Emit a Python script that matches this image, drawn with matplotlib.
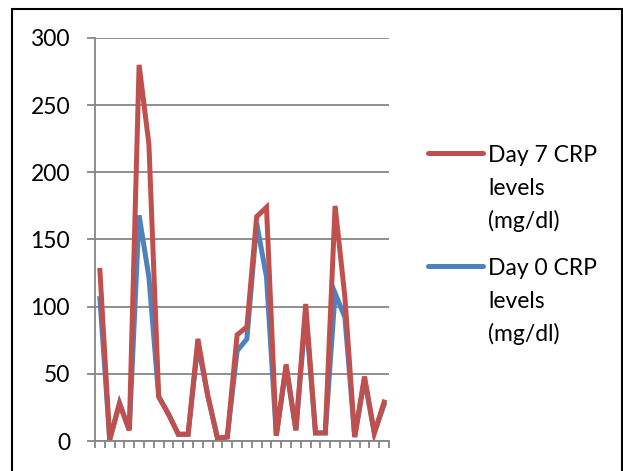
import numpy as np
import matplotlib.pyplot as plt
from matplotlib.lines import Line2D
from matplotlib.patches import Rectangle

plt.rcParams['font.family'] = ['Lato', 'DejaVu Sans']

patients = np.arange(1, 31)
day7 = [127, 1, 28, 8, 280, 221, 33, 20, 5, 5, 76, 34, 2, 3, 79,
        85, 167, 174, 4, 57, 8, 102, 6, 6, 175, 107, 3, 48, 6, 29]
day0 = [106, 1, 28, 8, 168, 122, 33, 20, 5, 5, 72, 34, 2, 3, 67,
        76, 162, 122, 4, 55, 8, 95, 6, 6, 110, 92, 3, 46, 6, 27]
labels = ['Day 7 CRP\nlevels\n(mg/dl)', 'Day 0 CRP\nlevels\n(mg/dl)']
red = '#C0504D'
blue = '#4F81BD'
grey = '#868686'

fig = plt.figure(figsize=(6.23, 4.71), dpi=100)
ax = fig.add_axes([95 / 623, 1 - 441 / 471, 294 / 623, 403 / 471])

ax.plot(patients, day0, color=blue, lw=3.6, solid_joinstyle='miter')
ax.plot(patients, day7, color=red, lw=3.6, solid_joinstyle='miter')

ax.set_xlim(0.5, 30.5)
ax.set_ylim(0, 300)
ax.set_yticks(np.arange(0, 301, 50))
ax.set_xticks(np.arange(0.5, 31, 1))
ax.set_xticklabels([])
ax.grid(axis='y', color=grey, lw=1.3)
ax.set_axisbelow(True)
for s in ['top', 'right']:
    ax.spines[s].set_visible(False)
for s in ['left', 'bottom']:
    ax.spines[s].set_color(grey)
    ax.spines[s].set_linewidth(1.3)
ax.tick_params(axis='y', length=6, width=1.3, color=grey, pad=12, labelsize=16.5)
ax.tick_params(axis='x', length=5, width=1.3, color=grey)

# legend drawn by hand so the key line sits on the first text line
for lab, col, y in zip(labels, [red, blue], [153, 266]):
    fig.add_artist(Line2D([428 / 623, 483 / 623], [1 - y / 471, 1 - y / 471],
                          color=col, lw=3.6, solid_capstyle='round'))
    for i, line in enumerate(lab.split('\n')):
        fig.text(488 / 623, 1 - (y + 9 + 33 * i) / 471, line,
                 fontsize=16.5, va='baseline', ha='left')

fig.add_artist(Rectangle((12 / 623, -0.05), 610 / 623, 1.05 - 9 / 471,
                         transform=fig.transFigure, fill=False,
                         edgecolor='black', lw=1.5))

fig.savefig('out.png', dpi=100)
